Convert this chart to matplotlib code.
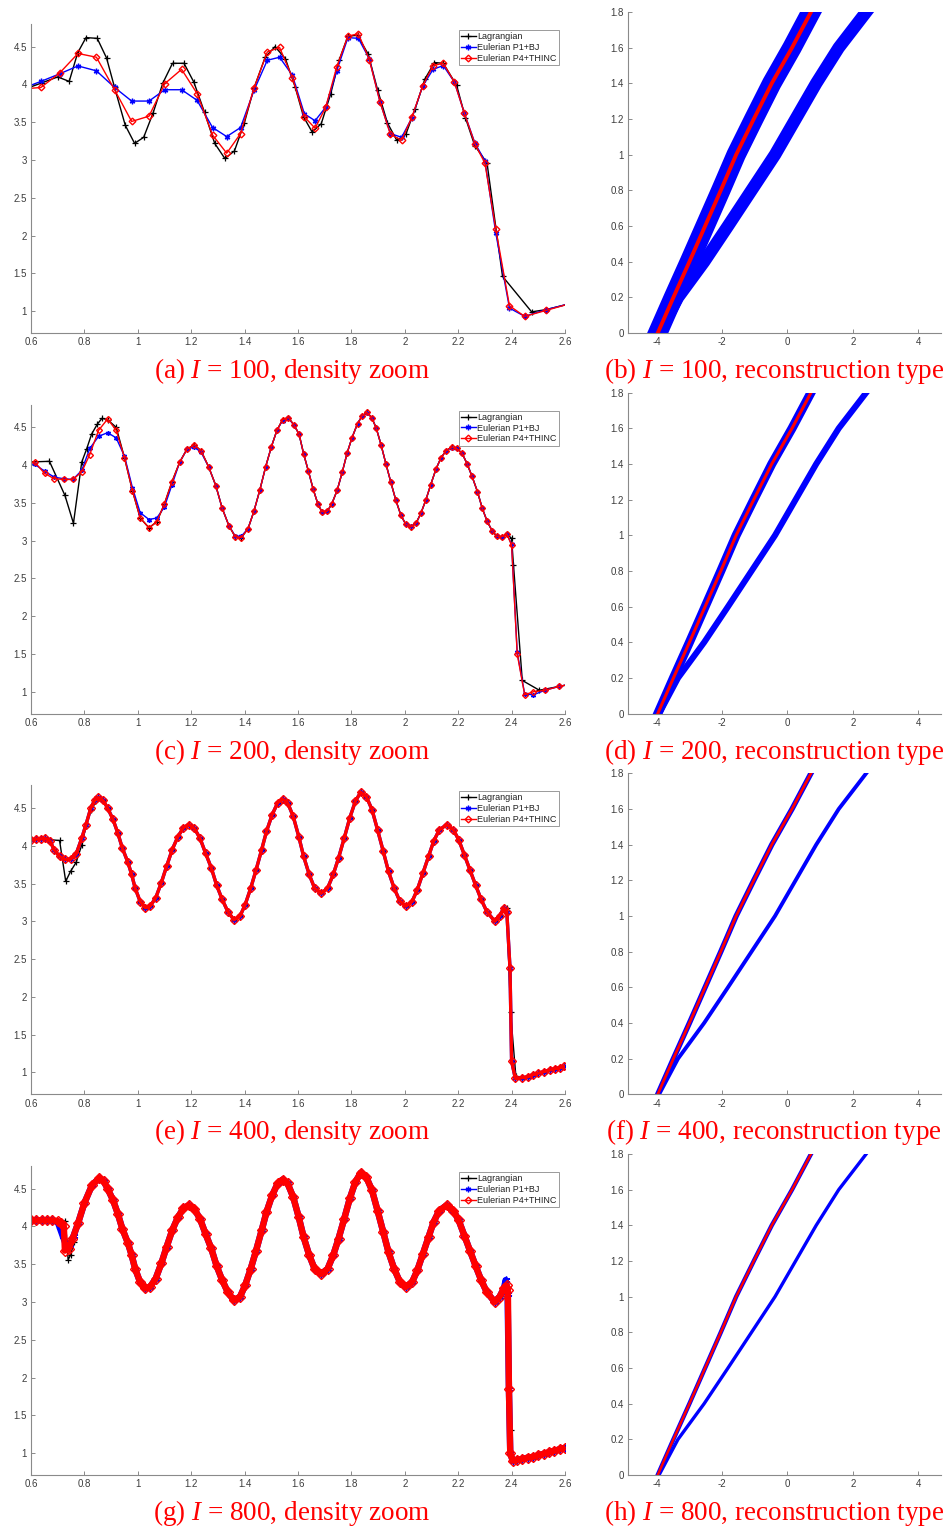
import matplotlib
matplotlib.use("Agg")
import matplotlib.pyplot as plt
from matplotlib.lines import Line2D

# ===============================================================
# DATA
# ===============================================================

# --- (a) I = 100, density zoom ---
lag_a_x = [0.57, 0.64, 0.70, 0.743, 0.775, 0.806, 0.848, 0.883, 0.913, 0.953,
           0.988, 1.022, 1.057, 1.094, 1.13, 1.173, 1.21, 1.25, 1.288, 1.326,
           1.362, 1.399, 1.435, 1.477, 1.514, 1.553, 1.589, 1.621, 1.653, 1.687,
           1.722, 1.755, 1.787, 1.823, 1.863, 1.898, 1.935, 1.97, 2.004, 2.039,
           2.075, 2.111, 2.144, 2.194, 2.227, 2.262, 2.308, 2.366, 2.475, 2.53,
           2.62]
lag_a_y = [3.93, 4.02, 4.10, 4.04, 4.42, 4.62, 4.61, 4.35, 3.96, 3.46,
           3.22, 3.30, 3.62, 4.02, 4.28, 4.28, 4.03, 3.63, 3.22, 3.02,
           3.12, 3.49, 3.95, 4.36, 4.50, 4.34, 3.97, 3.57, 3.37, 3.48,
           3.87, 4.33, 4.64, 4.65, 4.40, 3.93, 3.49, 3.26, 3.34, 3.68,
           4.07, 4.29, 4.28, 3.99, 3.56, 3.19, 2.96, 1.46, 0.99, 1.02,
           1.10]
eul_a_x = [0.57, 0.637, 0.707, 0.776, 0.845, 0.913, 0.977, 1.042, 1.101, 1.164,
           1.222, 1.28, 1.333, 1.385, 1.435, 1.485, 1.531, 1.579, 1.624, 1.664,
           1.704, 1.745, 1.787, 1.826, 1.867, 1.907, 1.946, 1.988, 2.027, 2.067,
           2.106, 2.144, 2.186, 2.223, 2.263, 2.30, 2.341, 2.392, 2.449, 2.53,
           2.62]
p1bj_a_y = [3.95, 4.04, 4.14, 4.245, 4.18, 3.96, 3.78, 3.78, 3.93, 3.93,
            3.79, 3.43, 3.31, 3.43, 3.92, 4.32, 4.36, 4.12, 3.61, 3.52,
            3.70, 4.18, 4.62, 4.61, 4.34, 3.77, 3.35, 3.30, 3.56, 3.98,
            4.20, 4.25, 4.03, 3.62, 3.22, 2.99, 2.03, 1.04, 0.93, 1.02,
            1.10]
p4thinc_a_y = [3.94, 3.96, 4.15, 4.41, 4.36, 3.93, 3.51, 3.58, 4.01, 4.20,
               3.88, 3.33, 3.09, 3.35, 3.95, 4.43, 4.49, 4.09, 3.57, 3.42,
               3.70, 4.23, 4.64, 4.67, 4.33, 3.77, 3.34, 3.26, 3.57, 3.98,
               4.25, 4.28, 4.03, 3.62, 3.21, 2.96, 2.08, 1.07, 0.93, 1.01,
               1.10]

# --- (c) I = 200, density zoom ---
eul_c_x = [0.581, 0.614, 0.651, 0.687, 0.722, 0.757, 0.790, 0.820, 0.853, 0.887,
           0.919, 0.950, 0.980, 1.009, 1.042, 1.071, 1.099, 1.128, 1.157, 1.184,
           1.211, 1.237, 1.265, 1.292, 1.316, 1.341, 1.365, 1.388, 1.413, 1.435,
           1.457, 1.479, 1.500, 1.521, 1.542, 1.564, 1.585, 1.604, 1.621, 1.639,
           1.657, 1.675, 1.690, 1.710, 1.727, 1.747, 1.766, 1.784, 1.802, 1.823,
           1.840, 1.858, 1.876, 1.893, 1.911, 1.929, 1.948, 1.966, 1.985, 2.003,
           2.023, 2.042, 2.060, 2.079, 2.097, 2.117, 2.136, 2.155, 2.175, 2.194,
           2.214, 2.233, 2.252, 2.272, 2.290, 2.308, 2.327, 2.344, 2.363, 2.382,
           2.400, 2.421, 2.449, 2.482, 2.525, 2.577, 2.620]
p4thinc_c_y = [4.02, 4.04, 3.89, 3.82, 3.81, 3.81, 3.91, 4.14, 4.46, 4.61,
               4.46, 4.10, 3.66, 3.30, 3.17, 3.25, 3.48, 3.78, 4.04, 4.21,
               4.27, 4.19, 3.98, 3.73, 3.43, 3.20, 3.05, 3.04, 3.16, 3.39,
               3.67, 3.98, 4.24, 4.46, 4.60, 4.63, 4.53, 4.41, 4.15, 3.92,
               3.68, 3.48, 3.38, 3.39, 3.49, 3.67, 3.91, 4.16, 4.36, 4.55,
               4.65, 4.70, 4.63, 4.49, 4.27, 4.02, 3.77, 3.54, 3.34, 3.22,
               3.18, 3.23, 3.36, 3.54, 3.74, 3.95, 4.10, 4.19, 4.24, 4.22,
               4.16, 4.02, 3.85, 3.65, 3.43, 3.26, 3.13, 3.06, 3.05, 3.09,
               2.94, 1.50, 0.96, 1.00, 1.02, 1.07, 1.10]
p1bj_c_y = [4.02, 4.01, 3.92, 3.84, 3.82, 3.81, 3.93, 4.22, 4.38, 4.43,
            4.36, 4.12, 3.70, 3.37, 3.28, 3.30, 3.44, 3.74, 4.04, 4.21,
            4.24, 4.17, 3.98, 3.73, 3.43, 3.20, 3.06, 3.06, 3.16, 3.39,
            3.67, 3.98, 4.24, 4.46, 4.59, 4.62, 4.53, 4.41, 4.15, 3.92,
            3.68, 3.48, 3.38, 3.39, 3.49, 3.67, 3.91, 4.16, 4.36, 4.55,
            4.65, 4.69, 4.63, 4.49, 4.27, 4.02, 3.77, 3.54, 3.34, 3.22,
            3.19, 3.23, 3.36, 3.54, 3.74, 3.95, 4.10, 4.19, 4.23, 4.22,
            4.16, 4.02, 3.85, 3.65, 3.43, 3.26, 3.13, 3.06, 3.05, 3.09,
            2.95, 1.52, 0.97, 0.96, 1.02, 1.07, 1.10]
lag_c_head_x = [0.58, 0.669, 0.727, 0.759, 0.790, 0.808, 0.827, 0.848, 0.866, 0.887, 0.919]
lag_c_head_y = [4.04, 4.05, 3.60, 3.23, 4.04, 4.21, 4.41, 4.54, 4.62, 4.60, 4.50]
lag_c_tail_x = [2.400, 2.407, 2.440, 2.504, 2.577, 2.620]
lag_c_tail_y = [3.03, 2.68, 1.15, 1.02, 1.07, 1.10]

# --- converged wave, shared by (e) I = 400 and (g) I = 800 ---
wave_x = [0.887, 0.907, 0.925, 0.942, 0.963, 0.977, 0.990, 1.009, 1.028, 1.046,
          1.067, 1.088, 1.108, 1.129, 1.150, 1.171, 1.191, 1.212, 1.233, 1.254,
          1.275, 1.295, 1.316, 1.337, 1.360, 1.383, 1.402, 1.423, 1.443, 1.464,
          1.482, 1.503, 1.524, 1.542, 1.561, 1.582, 1.603, 1.621, 1.642, 1.662,
          1.687, 1.711, 1.732, 1.752, 1.773, 1.794, 1.815, 1.835, 1.856, 1.877,
          1.898, 1.919, 1.939, 1.960, 1.981, 2.004, 2.027, 2.047, 2.068, 2.089,
          2.108, 2.129, 2.157, 2.182, 2.202, 2.223, 2.244, 2.265, 2.286, 2.307,
          2.337, 2.355, 2.371]
wave_y = [4.50, 4.35, 4.17, 3.97, 3.78, 3.62, 3.44, 3.26, 3.18, 3.20,
          3.31, 3.51, 3.73, 3.95, 4.12, 4.24, 4.28, 4.23, 4.10, 3.90,
          3.71, 3.48, 3.29, 3.13, 3.02, 3.07, 3.22, 3.44, 3.68, 3.95,
          4.19, 4.41, 4.57, 4.62, 4.57, 4.39, 4.12, 3.86, 3.62, 3.44,
          3.37, 3.44, 3.62, 3.84, 4.10, 4.37, 4.59, 4.71, 4.65, 4.48,
          4.21, 3.93, 3.66, 3.44, 3.27, 3.20, 3.26, 3.42, 3.64, 3.86,
          4.06, 4.21, 4.28, 4.21, 4.08, 3.88, 3.68, 3.48, 3.29, 3.13,
          3.00, 3.07, 3.18]

# --- (e) I = 400 ---
eul_e_head_x = [0.600, 0.619, 0.637, 0.654, 0.672, 0.686, 0.707, 0.727, 0.748, 0.769,
                0.790, 0.806, 0.824, 0.838, 0.852, 0.870]
eul_e_head_y = [4.07, 4.09, 4.09, 4.10, 4.06, 3.95, 3.86, 3.82, 3.82, 3.89,
                4.10, 4.28, 4.50, 4.60, 4.64, 4.60]
eul_e_tail_x = [2.382, 2.394, 2.400, 2.414, 2.438, 2.460, 2.480, 2.500, 2.521, 2.542,
                2.563, 2.580, 2.595, 2.620]
eul_e_tail_y = [3.13, 2.38, 1.15, 0.92, 0.93, 0.94, 0.97, 0.99, 1.01, 1.03,
                1.05, 1.06, 1.08, 1.09]
lag_e_head_x = [0.60, 0.672, 0.707, 0.730, 0.748, 0.769, 0.790, 0.806, 0.824, 0.852, 0.870]
lag_e_head_y = [4.07, 4.08, 4.07, 3.53, 3.66, 3.78, 4.01, 4.26, 4.47, 4.63, 4.60]
lag_e_tail_x = [2.382, 2.396, 2.416, 2.438, 2.480, 2.521, 2.563, 2.595, 2.620]
lag_e_tail_y = [3.18, 1.80, 0.95, 0.93, 0.97, 1.01, 1.05, 1.08, 1.09]

# --- (g) I = 800 ---
p4_g_head_x = [0.60, 0.62, 0.64, 0.66, 0.68, 0.70, 0.714, 0.723, 0.727, 0.741,
               0.755, 0.776, 0.800, 0.829, 0.856, 0.872]
p4_g_head_y = [4.08, 4.08, 4.08, 4.08, 4.08, 4.07, 4.05, 4.00, 3.68, 3.70,
               3.83, 4.04, 4.31, 4.55, 4.64, 4.60]
p1_g_head_x = [0.60, 0.62, 0.64, 0.66, 0.68, 0.70, 0.707, 0.718, 0.732, 0.745,
               0.760, 0.776, 0.800, 0.829, 0.856, 0.872]
p1_g_head_y = [4.08, 4.08, 4.08, 4.08, 4.08, 4.06, 3.99, 3.88, 3.75, 3.75,
               3.88, 4.04, 4.31, 4.55, 4.64, 4.60]
lag_g_head_x = [0.60, 0.729, 0.739, 0.748, 0.762, 0.776, 0.800, 0.829, 0.856, 0.872]
lag_g_head_y = [4.08, 4.07, 3.56, 3.62, 3.80, 4.04, 4.31, 4.55, 4.64, 4.60]
p4_g_tail_x = [2.382, 2.386, 2.390, 2.395, 2.404, 2.42, 2.44, 2.46, 2.48, 2.50,
               2.52, 2.54, 2.56, 2.58, 2.60, 2.62]
p4_g_tail_y = [3.22, 3.16, 1.85, 1.00, 0.90, 0.91, 0.92, 0.94, 0.95, 0.97,
               0.99, 1.01, 1.03, 1.05, 1.07, 1.08]
p1_g_tail_x = [2.378, 2.385, 2.390, 2.395, 2.404, 2.42, 2.44, 2.46, 2.48, 2.50,
               2.52, 2.54, 2.56, 2.58, 2.60, 2.62]
p1_g_tail_y = [3.29, 3.10, 1.85, 1.00, 0.90, 0.91, 0.92, 0.94, 0.95, 0.97,
               0.99, 1.01, 1.03, 1.05, 1.07, 1.08]
lag_g_tail_x = [2.385, 2.396, 2.404, 2.44, 2.50, 2.56, 2.62]
lag_g_tail_y = [3.20, 1.31, 0.93, 0.92, 0.97, 1.03, 1.08]

# --- right column: reconstruction type (x vs y) ---
recon_y = [0.0, 0.2, 0.4, 0.6, 0.8, 1.0, 1.2, 1.4, 1.6, 1.8]
recon_left_x = [-3.97, -3.49, -3.00, -2.52, -2.04, -1.57, -1.03, -0.48, 0.14, 0.72]
recon_right_x = [-3.93, -3.35, -2.55, -1.82, -1.10, -0.38, 0.25, 0.88, 1.57, 2.41]

levels = [100, 200, 400, 800]
left_letters = ["a", "c", "e", "g"]
right_letters = ["b", "d", "f", "h"]
series_labels = ["Lagrangian", "Eulerian P1+BJ", "Eulerian P4+THINC"]

density_xticks = [0.6, 0.8, 1.0, 1.2, 1.4, 1.6, 1.8, 2.0, 2.2, 2.4, 2.6]
density_yticks = [1.0, 1.5, 2.0, 2.5, 3.0, 3.5, 4.0, 4.5]
recon_xticks = [-4, -2, 0, 2, 4]
recon_yticks = [0.0, 0.2, 0.4, 0.6, 0.8, 1.0, 1.2, 1.4, 1.6, 1.8]


def wave_between(lo, hi):
    """Part of the shared converged wave with lo < x < hi."""
    pts = [(x, y) for x, y in zip(wave_x, wave_y) if lo < x < hi]
    return [p[0] for p in pts], [p[1] for p in pts]


def splice(head_x, head_y, tail_x, tail_y, mid_x, mid_y):
    return head_x + mid_x + tail_x, head_y + mid_y + tail_y


# --- build the (c), (e), (g) series ---
mid_c = [(x, y) for x, y in zip(eul_c_x, p4thinc_c_y) if 0.94 < x < 2.39]
lag_c_x = lag_c_head_x + [p[0] for p in mid_c] + lag_c_tail_x
lag_c_y = lag_c_head_y + [p[1] for p in mid_c] + lag_c_tail_y

wx, wy = wave_between(0.88, 2.38)
eul_e_x, eul_e_y = splice(eul_e_head_x, eul_e_head_y, eul_e_tail_x, eul_e_tail_y, wx, wy)
lag_e_x, lag_e_y = splice(lag_e_head_x, lag_e_head_y, lag_e_tail_x, lag_e_tail_y, wx, wy)
p4_g_x, p4_g_y = splice(p4_g_head_x, p4_g_head_y, p4_g_tail_x, p4_g_tail_y, wx, wy)
p1_g_x, p1_g_y = splice(p1_g_head_x, p1_g_head_y, p1_g_tail_x, p1_g_tail_y, wx, wy)
lag_g_x, lag_g_y = splice(lag_g_head_x, lag_g_head_y, lag_g_tail_x, lag_g_tail_y, wx, wy)

density_sets = [
    ((lag_a_x, lag_a_y), (eul_a_x, p1bj_a_y), (eul_a_x, p4thinc_a_y)),
    ((lag_c_x, lag_c_y), (eul_c_x, p1bj_c_y), (eul_c_x, p4thinc_c_y)),
    ((lag_e_x, lag_e_y), (eul_e_x, eul_e_y), (eul_e_x, eul_e_y)),
    ((lag_g_x, lag_g_y), (p1_g_x, p1_g_y), (p4_g_x, p4_g_y)),
]
# marker size / line width per row (plot styling only)
density_ms = [3.4, 3.0, 4.0, 5.0]
density_lw = [1.0, 1.0, 2.4, 4.6]
# blue band (left, right) and red line widths for each row
recon_lw = [(14, 9, 2.8), (6.5, 4.4, 2.2), (3.9, 2.8, 2.0), (3.2, 2.4, 1.8)]

# ===============================================================
# FIGURE
# ===============================================================
plt.rcParams["font.family"] = ["Liberation Sans", "DejaVu Sans"]
plt.rcParams["mathtext.fontset"] = "custom"
plt.rcParams["mathtext.rm"] = "Liberation Serif"
plt.rcParams["mathtext.it"] = "Liberation Serif:italic"

AXIS_GREY = "#8a8a8a"
TEXT_GREY = "#3c3c3c"
W, H = 946.0, 1531.0
ROW = 380.67
CAPTION_SIZE = 19.5

fig = plt.figure(figsize=(9.46, 15.31), dpi=100)


def px_axes(left, top, right, bottom):
    return fig.add_axes([left / W, 1 - bottom / H, (right - left) / W, (bottom - top) / H])


def style_axes(ax, xticks, yticks):
    for side in ("top", "right"):
        ax.spines[side].set_visible(False)
    for side in ("left", "bottom"):
        ax.spines[side].set_color(AXIS_GREY)
        ax.spines[side].set_linewidth(0.8)
    ax.set_xticks(xticks)
    ax.set_xticklabels([f"{t:g}" for t in xticks])
    ax.set_yticks(yticks)
    ax.set_yticklabels([f"{t:g}" for t in yticks])
    ax.tick_params(direction="in", length=3, width=0.7, colors=AXIS_GREY,
                   labelcolor=TEXT_GREY, labelsize=7, pad=3)


for i, level in enumerate(levels):
    # --- density zoom ---
    ax = px_axes(31, 24 + ROW * i, 565, 333 + ROW * i)
    (lx, ly), (bx, by), (rx, ry) = density_sets[i]
    ms, lw = density_ms[i], density_lw[i]
    ax.plot(lx, ly, color="k", lw=1.0, marker="+", ms=5, mew=0.9)
    ax.plot(bx, by, color="b", lw=lw, marker=(6, 2, 0), ms=ms + 0.6, mew=1.0)
    ax.plot(rx, ry, color="r", lw=lw, marker="D", ms=ms, mfc="none", mec="r", mew=1.0)
    ax.set_xlim(0.6, 2.6)
    ax.set_ylim(0.71, 4.80)
    style_axes(ax, density_xticks, density_yticks)

    handles = [
        Line2D([], [], color="k", lw=1.0, marker="+", ms=5, mew=0.9),
        Line2D([], [], color="b", lw=1.0, marker=(6, 2, 0), ms=4, mew=1.0),
        Line2D([], [], color="r", lw=1.0, marker="D", ms=3.4, mfc="none", mew=1.0),
    ]
    leg = ax.legend(handles, series_labels, loc="upper right",
                    bbox_to_anchor=(0.989, 0.981), borderaxespad=0,
                    fontsize=6.5, handlelength=1.7, handletextpad=0.15,
                    labelspacing=0.2, borderpad=0.25, numpoints=1,
                    fancybox=False, framealpha=1)
    leg.get_frame().set_edgecolor("#9a9a9a")
    leg.get_frame().set_linewidth(0.7)
    for t in leg.get_texts():
        t.set_color("#202020")

    fig.text(292 / W, 1 - (371 + ROW * i) / H,
             f"({left_letters[i]}) $I$ = {level}, density zoom",
             color="#ff0000", family="Liberation Serif", fontsize=CAPTION_SIZE,
             ha="center", va="center")

    # --- reconstruction type ---
    ax2 = px_axes(628, 12 + ROW * i, 941, 333 + ROW * i)
    wl, wr, wred = recon_lw[i]
    ax2.plot(recon_right_x, recon_y, color="b", lw=wr, solid_capstyle="projecting")
    ax2.plot(recon_left_x, recon_y, color="b", lw=wl, solid_capstyle="projecting")
    ax2.plot(recon_left_x, recon_y, color="r", lw=wred, solid_capstyle="projecting")
    ax2.set_xlim(-4.88, 4.7)
    ax2.set_ylim(0, 1.8)
    style_axes(ax2, recon_xticks, recon_yticks)

    fig.text(774 / W, 1 - (371 + ROW * i) / H,
             f"({right_letters[i]}) $I$ = {level}, reconstruction type",
             color="#ff0000", family="Liberation Serif", fontsize=CAPTION_SIZE,
             ha="center", va="center")

fig.savefig("out.png", dpi=100)
